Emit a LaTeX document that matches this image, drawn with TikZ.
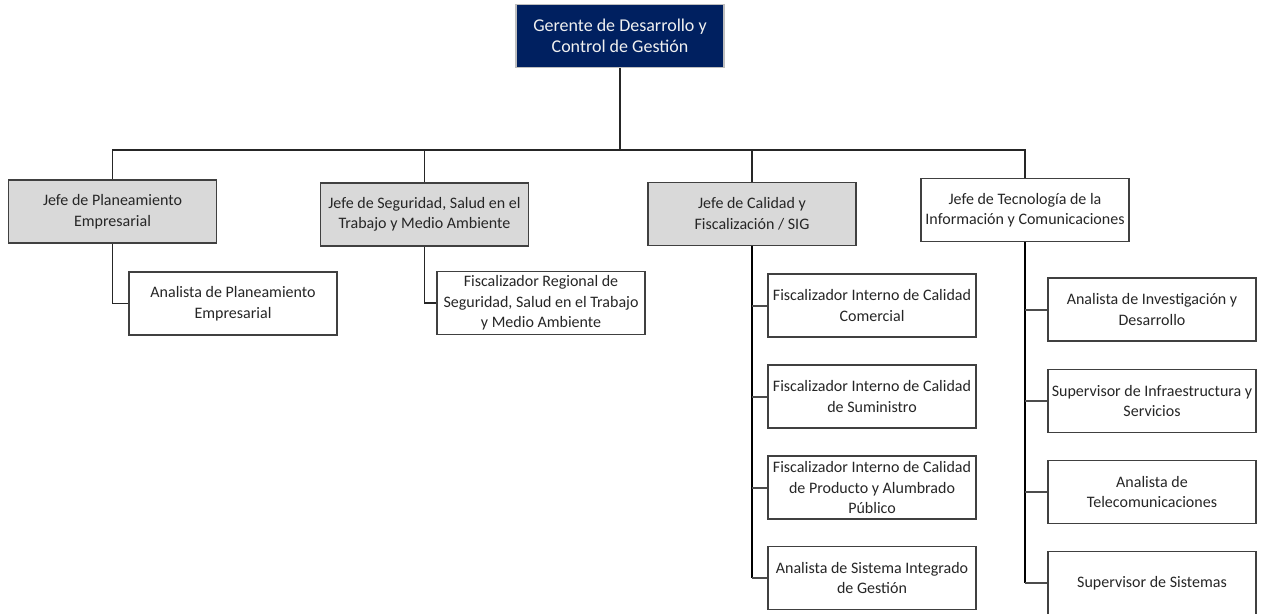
\documentclass[tikz,border=0pt]{standalone}
\usepackage{fontspec}
\setmainfont{Carlito}
\usepackage{tikz}
\usetikzlibrary{positioning,calc}

\definecolor{navy}{HTML}{002060}
\definecolor{jefegray}{HTML}{D9D9D9}
\definecolor{edge}{HTML}{404040}
\definecolor{txt}{HTML}{262626}

\tikzset{
  post/.style={draw=edge, line width=1.6pt, minimum width=208pt, minimum height=63pt,
    inner sep=1pt, align=center, text=txt, font=\fontsize{16}{20.5}\selectfont},
  boss/.style={post, fill=navy, draw=gray!50, text=white!88!gray,
    font=\fontsize{18}{21.5}\selectfont},
  jefe/.style={post, fill=jefegray},
  staff/.style={post, fill=white},
  link/.style={draw=black!85, line width=1.3pt},
  spine/.style={draw=black, line width=2.2pt},
  stub/.style={draw=black!70, line width=2pt},
}

\begin{document}
\begin{tikzpicture}[x=1pt, y=-1pt]
    \useasboundingbox (0,0) rectangle (1266,613);

    % Gerente
    \node[boss] (ger) at (620,36) {Gerente de Desarrollo y\\Control de Gestión};

    % Jefes
    \node[jefe] (jpe) at (112.5,211.5) {Jefe de Planeamiento\\Empresarial};
    \node[jefe] (jss) at (424.5,214.5) {Jefe de Seguridad, Salud en el\\Trabajo y Medio Ambiente};
    \node[jefe] (jca) at (752,214) {Jefe de Calidad y\\Fiscalización / SIG};
    \node[staff] (jti) at (1025,210) {Jefe de Tecnología de la\\Información y Comunicaciones};

    % Bus below the Gerente
    \coordinate (bus) at (620,150);
    \draw[link] (ger.south) -- (bus);
    \draw[link] (jpe.north) |- (bus) -| (jti.north);
    \draw[link] (jss.north) -- (jss.north |- bus);
    \draw[link] (jca.north) -- (jca.north |- bus);

    % Planeamiento
    \node[staff] (apl) at (233,303.5) {Analista de Planeamiento\\Empresarial};
    \draw[link] (jpe.south) |- (apl.west);

    % Seguridad
    \node[staff] (frs) at (541,303) {Fiscalizador Regional de\\Seguridad, Salud en el Trabajo\\y Medio Ambiente};
    \draw[link] (jss.south) |- (frs.west);

    % Calidad
    \node[staff] (fic) at (872,305.5) {Fiscalizador Interno de Calidad\\Comercial};
    \node[staff] (fis) at (872,396.5) {Fiscalizador Interno de Calidad\\de Suministro};
    \node[staff] (fip) at (872,487.5) {Fiscalizador Interno de Calidad\\de Producto y Alumbrado\\Público};
    \node[staff] (asg) at (872,578) {Analista de Sistema Integrado\\de Gestión};
    \draw[spine] (jca.south) -- (jca.south |- asg.west);
    \foreach \n in {fic,fis,fip,asg}
        \draw[stub] (jca.south |- \n.west) -- (\n.west);

    % Tecnologia
    \node[staff] (aid) at (1152,309.5) {Analista de Investigación y\\Desarrollo};
    \node[staff] (sis) at (1152,401) {Supervisor de Infraestructura y\\Servicios};
    \node[staff] (atc) at (1152,492) {Analista de\\Telecomunicaciones};
    \node[staff] (ssi) at (1152,583) {Supervisor de Sistemas};
    \draw[spine] (jti.south) -- (jti.south |- ssi.west);
    \foreach \n in {aid,sis,atc,ssi}
        \draw[stub] (jti.south |- \n.west) -- (\n.west);
\end{tikzpicture}
\end{document}
